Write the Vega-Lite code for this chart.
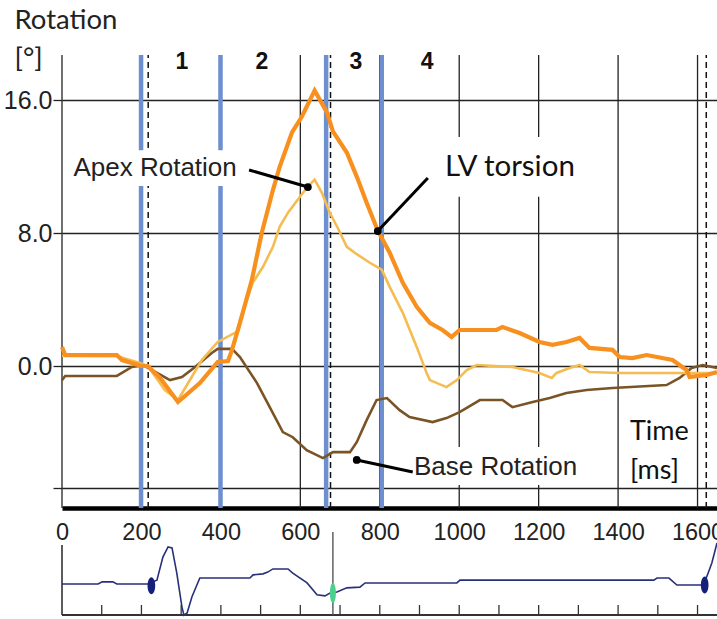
{
  "$schema": "https://vega.github.io/schema/vega-lite/v6.json",
  "width": 655,
  "height": 560,
  "autosize": {"type": "none"},
  "padding": {"left": 62, "top": 55, "right": 0, "bottom": 4},
  "background": "white",
  "config": {
    "view": {"stroke": null},
    "axisX": {"offset": -107, "domain": true, "domainColor": "#000", "domainWidth": 4.5, "ticks": false, "tickSize": 0, "grid": false, "labelFont": "Liberation Sans, Arial, sans-serif", "labelFontSize": 23.5, "labelColor": "#222", "labelPadding": 12, "labelFlush": false, "labelOverlap": false, "labelBound": false},
    "axisY": {"domain": false, "ticks": true, "tickSize": 9, "tickColor": "#222", "tickWidth": 1.3, "grid": true, "gridColor": "#222", "gridWidth": 1.3, "gridOpacity": 1, "labelFont": "Liberation Sans, Arial, sans-serif", "labelFontSize": 25, "labelColor": "#222", "labelPadding": 1, "labelFlush": false, "labelOverlap": false}
  },
  "datasets": {
    "torsion": [{"t":0,"v":1.15},{"t":8,"v":0.66},{"t":138,"v":0.66},{"t":151,"v":0.36},{"t":184,"v":0.12},{"t":199,"v":0},{"t":216,"v":0},{"t":247,"v":-0.72},{"t":292,"v":-2.17},{"t":347,"v":-1.03},{"t":392,"v":0.24},{"t":418,"v":0.3},{"t":428,"v":0.97},{"t":448,"v":2.6},{"t":478,"v":5.19},{"t":503,"v":8.03},{"t":531,"v":10.6},{"t":548,"v":12.0},{"t":579,"v":14.07},{"t":604,"v":15.03},{"t":636,"v":16.6},{"t":667,"v":15.28},{"t":682,"v":14.13},{"t":717,"v":12.86},{"t":742,"v":11.41},{"t":767,"v":9.84},{"t":795,"v":8.15},{"t":825,"v":6.82},{"t":858,"v":5.01},{"t":893,"v":3.56},{"t":926,"v":2.6},{"t":958,"v":2.17},{"t":981,"v":1.75},{"t":1001,"v":2.17},{"t":1094,"v":2.17},{"t":1109,"v":2.35},{"t":1152,"v":1.99},{"t":1202,"v":1.45},{"t":1235,"v":1.27},{"t":1270,"v":1.45},{"t":1303,"v":1.69},{"t":1328,"v":1.09},{"t":1386,"v":0.97},{"t":1404,"v":0.54},{"t":1436,"v":0.48},{"t":1472,"v":0.66},{"t":1537,"v":0.36},{"t":1572,"v":-0.24},{"t":1580,"v":-0.66},{"t":1623,"v":-0.54},{"t":1649,"v":-0.36}],
    "apex": [{"t":0,"v":0.62},{"t":138,"v":0.6},{"t":196,"v":0.18},{"t":216,"v":0},{"t":259,"v":-1.45},{"t":292,"v":-2.05},{"t":352,"v":0.36},{"t":392,"v":1.45},{"t":440,"v":2.05},{"t":448,"v":2.78},{"t":480,"v":5.01},{"t":506,"v":5.98},{"t":531,"v":7.18},{"t":548,"v":8.39},{"t":569,"v":9.24},{"t":599,"v":10.2},{"t":619,"v":10.81},{"t":636,"v":11.23},{"t":654,"v":10.45},{"t":674,"v":9.24},{"t":694,"v":8.33},{"t":717,"v":7.18},{"t":737,"v":6.82},{"t":775,"v":6.22},{"t":805,"v":5.8},{"t":825,"v":4.77},{"t":858,"v":3.2},{"t":893,"v":1.15},{"t":918,"v":-0.42},{"t":926,"v":-0.85},{"t":968,"v":-1.27},{"t":994,"v":-0.85},{"t":1019,"v":-0.24},{"t":1044,"v":0.06},{"t":1134,"v":-0.06},{"t":1202,"v":-0.42},{"t":1233,"v":-0.72},{"t":1245,"v":-0.42},{"t":1278,"v":-0.12},{"t":1303,"v":0.06},{"t":1328,"v":-0.36},{"t":1404,"v":-0.42},{"t":1649,"v":-0.42}],
    "base": [{"t":0,"v":-0.85},{"t":8,"v":-0.6},{"t":138,"v":-0.6},{"t":176,"v":-0.06},{"t":204,"v":0.06},{"t":272,"v":-0.85},{"t":302,"v":-0.66},{"t":335,"v":-0.06},{"t":377,"v":0.78},{"t":392,"v":1.03},{"t":428,"v":1.03},{"t":448,"v":0.54},{"t":491,"v":-1.03},{"t":523,"v":-2.48},{"t":556,"v":-3.98},{"t":581,"v":-4.29},{"t":616,"v":-5.07},{"t":657,"v":-5.55},{"t":682,"v":-5.19},{"t":725,"v":-5.19},{"t":742,"v":-4.59},{"t":767,"v":-3.26},{"t":792,"v":-2.05},{"t":818,"v":-1.93},{"t":850,"v":-2.66},{"t":875,"v":-3.08},{"t":933,"v":-3.38},{"t":968,"v":-3.14},{"t":1001,"v":-2.78},{"t":1052,"v":-2.05},{"t":1109,"v":-2.05},{"t":1134,"v":-2.48},{"t":1185,"v":-2.17},{"t":1228,"v":-1.93},{"t":1270,"v":-1.63},{"t":1321,"v":-1.45},{"t":1386,"v":-1.33},{"t":1522,"v":-1.15},{"t":1555,"v":-0.72},{"t":1585,"v":-0.12},{"t":1613,"v":0.06},{"t":1649,"v":-0.12}],
    "vgrid": [{"t":0},{"t":200},{"t":400},{"t":600},{"t":800},{"t":1000},{"t":1200},{"t":1400},{"t":1600}],
    "phaseBounds": [{"t":199},{"t":399},{"t":665},{"t":805}],
    "dashed": [{"t":217},{"t":676},{"t":1622}],
    "phases": [{"t":302,"v":18.3,"label":"1"},{"t":503,"v":18.3,"label":"2"},{"t":740,"v":18.3,"label":"3"},{"t":919,"v":18.3,"label":"4"}],
    "boxes": [{"t1":15,"t2":453,"v1":13.0,"v2":10.84},{"t1":939,"t2":1316,"v1":13.8,"v2":10.2},{"t1":876,"t2":1325,"v1":-4.88,"v2":-7.17},{"t1":1410,"t2":1593,"v1":-2.95,"v2":-7.25}],
    "pointers": [{"t":471,"v":11.81,"t2":619,"v2":10.78},{"t":921,"v":11.33,"t2":795,"v2":8.13},{"t":883,"v":-6.39,"t2":742,"v2":-5.66}],
    "labelApex": [{"t":440,"v":11.93,"label":"Apex Rotation"}],
    "labelBase": [{"t":886,"v":-6.08,"label":"Base Rotation"}],
    "labelsCal": [{"t":1430,"v":-3.98,"label":"Time"},{"t":1430,"v":-6.33,"label":"[ms]"}],
    "labelLV": [{"t":964,"v":12.0,"label":"LV torsion"}],
    "ecg": [{"t":0,"e":0},{"t":91,"e":0},{"t":101,"e":0.06},{"t":128,"e":0.06},{"t":138,"e":0},{"t":216,"e":0},{"t":239,"e":0.11},{"t":254,"e":0.77},{"t":267,"e":1.06},{"t":277,"e":1.03},{"t":289,"e":0.31},{"t":302,"e":-0.66},{"t":307,"e":-0.89},{"t":315,"e":-0.83},{"t":327,"e":-0.37},{"t":347,"e":0.17},{"t":473,"e":0.17},{"t":481,"e":0.26},{"t":506,"e":0.29},{"t":518,"e":0.34},{"t":531,"e":0.43},{"t":569,"e":0.43},{"t":581,"e":0.31},{"t":617,"e":0.03},{"t":642,"e":-0.31},{"t":662,"e":-0.34},{"t":675,"e":-0.26},{"t":692,"e":-0.23},{"t":717,"e":-0.11},{"t":750,"e":-0.09},{"t":763,"e":0.03},{"t":994,"e":0.03},{"t":1002,"e":0.11},{"t":1490,"e":0.11},{"t":1498,"e":0.17},{"t":1528,"e":0.17},{"t":1548,"e":-0.03},{"t":1611,"e":-0.03},{"t":1623,"e":0.2},{"t":1636,"e":0.6},{"t":1649,"e":1.17}],
    "ecgTicks": [{"t":100},{"t":200},{"t":300},{"t":400},{"t":500},{"t":600},{"t":700},{"t":800},{"t":900},{"t":1000},{"t":1100},{"t":1200},{"t":1300},{"t":1400},{"t":1500},{"t":1600}],
    "ecgBeats": [{"t":225,"e":-0.05},{"t":1618,"e":-0.03}],
    "ecgMarker": [{"t":682,"e":-0.26}]
  },
  "layer": [
    {
      "layer": [
        {
          "data": {"name": "vgrid"},
          "mark": {"type": "rule", "color": "#222", "strokeWidth": 1.3},
          "encoding": {
            "x": {"field": "t", "type": "quantitative", "scale": {"domain": [0, 1649], "nice": false, "zero": false}, "axis": {"title": null, "format": "d", "values": [0, 200, 400, 600, 800, 1000, 1200, 1400, 1600]}},
            "y": {"datum": -8.55, "type": "quantitative", "scale": {"domain": [-15, 18.735], "nice": false, "zero": false}, "axis": {"title": ["Rotation", "[°]"], "titleFont": "Lato", "titleFontSize": 27.5, "titleFontWeight": "normal", "titleColor": "#222", "titleAngle": 0, "titleAlign": "left", "titleBaseline": "alphabetic", "titleX": -48, "titleY": -27, "titleLineHeight": 38, "values": [-7.35, 0, 8, 16], "labelExpr": "datum.value < -1 ? '' : format(datum.value, '.1f')"}},
            "y2": {"datum": 18.735}
          }
        },
        {
          "data": {"name": "phaseBounds"},
          "mark": {"type": "rule", "color": "#6D8ECF", "strokeWidth": 4.5},
          "encoding": {"x": {"field": "t", "type": "quantitative"}, "y": {"datum": -8.55, "type": "quantitative"}, "y2": {"datum": 18.735}}
        },
        {
          "data": {"name": "dashed"},
          "mark": {"type": "rule", "color": "#111", "strokeWidth": 1.5, "strokeDash": [6, 4]},
          "encoding": {"x": {"field": "t", "type": "quantitative"}, "y": {"datum": -8.55, "type": "quantitative"}, "y2": {"datum": 18.735}}
        },
        {
          "data": {"name": "boxes"},
          "mark": {"type": "rect", "color": "white"},
          "encoding": {"x": {"field": "t1", "type": "quantitative"}, "x2": {"field": "t2"}, "y": {"field": "v1", "type": "quantitative"}, "y2": {"field": "v2"}}
        },
        {
          "data": {"name": "base"},
          "mark": {"type": "line", "color": "#7A5426", "strokeWidth": 2.6, "interpolate": "linear"},
          "encoding": {"x": {"field": "t", "type": "quantitative"}, "y": {"field": "v", "type": "quantitative"}}
        },
        {
          "data": {"name": "apex"},
          "mark": {"type": "line", "color": "#F5BC52", "strokeWidth": 2.6},
          "encoding": {"x": {"field": "t", "type": "quantitative"}, "y": {"field": "v", "type": "quantitative"}}
        },
        {
          "data": {"name": "torsion"},
          "mark": {"type": "line", "color": "#F7901E", "strokeWidth": 4.2},
          "encoding": {"x": {"field": "t", "type": "quantitative"}, "y": {"field": "v", "type": "quantitative"}}
        },
        {
          "data": {"name": "pointers"},
          "mark": {"type": "rule", "color": "#000", "strokeWidth": 3},
          "encoding": {"x": {"field": "t", "type": "quantitative"}, "x2": {"field": "t2"}, "y": {"field": "v", "type": "quantitative"}, "y2": {"field": "v2"}}
        },
        {
          "data": {"name": "pointers"},
          "mark": {"type": "point", "filled": true, "color": "#000", "size": 60, "opacity": 1},
          "encoding": {"x": {"field": "t2", "type": "quantitative"}, "y": {"field": "v2", "type": "quantitative"}}
        },
        {
          "data": {"name": "phases"},
          "mark": {"type": "text", "font": "Liberation Sans, Arial, sans-serif", "fontSize": 23, "fontWeight": "bold", "color": "#111", "align": "center", "baseline": "middle"},
          "encoding": {"x": {"field": "t", "type": "quantitative"}, "y": {"field": "v", "type": "quantitative"}, "text": {"field": "label"}}
        },
        {
          "data": {"name": "labelApex"},
          "mark": {"type": "text", "font": "Liberation Sans, Arial, sans-serif", "fontSize": 26, "color": "#222", "align": "right", "baseline": "middle"},
          "encoding": {"x": {"field": "t", "type": "quantitative"}, "y": {"field": "v", "type": "quantitative"}, "text": {"field": "label"}}
        },
        {
          "data": {"name": "labelBase"},
          "mark": {"type": "text", "font": "Liberation Sans, Arial, sans-serif", "fontSize": 26, "color": "#222", "align": "left", "baseline": "middle"},
          "encoding": {"x": {"field": "t", "type": "quantitative"}, "y": {"field": "v", "type": "quantitative"}, "text": {"field": "label"}}
        },
        {
          "data": {"name": "labelsCal"},
          "mark": {"type": "text", "font": "Lato", "fontSize": 27, "color": "#111", "align": "left", "baseline": "middle"},
          "encoding": {"x": {"field": "t", "type": "quantitative"}, "y": {"field": "v", "type": "quantitative"}, "text": {"field": "label"}}
        },
        {
          "data": {"name": "labelLV"},
          "mark": {"type": "text", "font": "Lato", "fontSize": 29.5, "color": "#111", "align": "left", "baseline": "middle"},
          "encoding": {"x": {"field": "t", "type": "quantitative"}, "y": {"field": "v", "type": "quantitative"}, "text": {"field": "label"}}
        }
      ]
    },
    {
      "layer": [
        {
          "data": {"name": "ecgTicks"},
          "mark": {"type": "rule", "color": "#333", "strokeWidth": 1.3},
          "encoding": {
            "x": {"field": "t", "type": "quantitative"},
            "y": {"datum": -0.886, "type": "quantitative", "scale": {"domain": [-0.886, 15.114], "nice": false, "zero": false}, "axis": null},
            "y2": {"datum": -0.6}
          }
        },
        {
          "data": {"values": [{"t": 0}]},
          "mark": {"type": "rule", "color": "#333", "strokeWidth": 1.6},
          "encoding": {"x": {"field": "t", "type": "quantitative"}, "y": {"datum": -0.886, "type": "quantitative", "axis": null}, "y2": {"datum": 1.114}}
        },
        {
          "data": {"values": [{"t": 0, "t2": 1649}]},
          "mark": {"type": "rule", "color": "#333", "strokeWidth": 2},
          "encoding": {"x": {"field": "t", "type": "quantitative"}, "x2": {"field": "t2"}, "y": {"datum": -0.886, "type": "quantitative", "axis": null}}
        },
        {
          "data": {"name": "ecgMarker"},
          "mark": {"type": "rule", "color": "#555", "strokeWidth": 1.4},
          "encoding": {"x": {"field": "t", "type": "quantitative"}, "y": {"datum": -0.886, "type": "quantitative", "axis": null}, "y2": {"datum": 1.486}}
        },
        {
          "data": {"name": "ecg"},
          "mark": {"type": "line", "color": "#28307A", "strokeWidth": 1.6},
          "encoding": {"x": {"field": "t", "type": "quantitative"}, "y": {"field": "e", "type": "quantitative", "axis": null}}
        },
        {
          "data": {"name": "ecgBeats"},
          "mark": {"type": "point", "shape": "M0,-1A0.45,1 0 1,1 0,1A0.45,1 0 1,1 0,-1Z", "filled": true, "color": "#14207A", "size": 290, "opacity": 1},
          "encoding": {"x": {"field": "t", "type": "quantitative"}, "y": {"field": "e", "type": "quantitative", "axis": null}}
        },
        {
          "data": {"name": "ecgMarker"},
          "mark": {"type": "point", "shape": "M0,-1A0.3,1 0 1,1 0,1A0.3,1 0 1,1 0,-1Z", "filled": true, "color": "#4CD08C", "size": 400, "opacity": 1},
          "encoding": {"x": {"field": "t", "type": "quantitative"}, "y": {"field": "e", "type": "quantitative", "axis": null}}
        }
      ]
    }
  ],
  "resolve": {"scale": {"y": "independent"}}
}
